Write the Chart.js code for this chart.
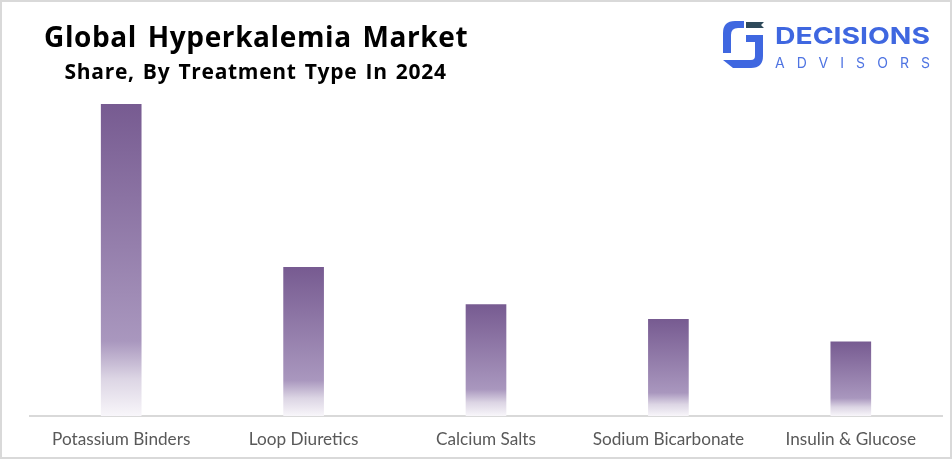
<!DOCTYPE html>
<html>
<head>
<meta charset="utf-8">
<script src="https://cdn.jsdelivr.net/npm/chart.js@4"></script>
<style>
html, body { margin: 0; padding: 0; background: #fff; overflow: hidden; }
#frame { position: relative; width: 952px; height: 459px; box-sizing: border-box; border: 2px solid #d9d9d9; }
#bar-chart { position: absolute; left: -2px; top: -2px; }
.head { position: absolute; color: #000; font-family: "Open Sans", sans-serif; white-space: nowrap; }
#title { left: 42px; top: 14px; font-size: 28px; font-weight: 700; line-height: 40px; letter-spacing: 0.6px; word-spacing: 3px; }
#subtitle { left: 62.5px; top: 54px; font-size: 21px; font-weight: 700; line-height: 30px; letter-spacing: 0.7px; word-spacing: 2px; }
#logo { position: absolute; left: -2px; top: -2px; }
</style>
</head>
<body>
<div id="frame">
    <canvas id="bar-chart" width="952" height="459"></canvas>
    <div class="head" id="title">Global Hyperkalemia Market</div>
    <div class="head" id="subtitle">Share, By Treatment Type In 2024</div>
    <svg id="logo" width="952" height="90" xmlns="http://www.w3.org/2000/svg">
        <path fill="#3f67e0" d="M744 21 H735 Q723 21 723 33 V53 H731 V35 Q731 28 738 28 H744 Z"/>
        <path fill="#3f67e0" d="M746 35 H763 V56 Q763 68 751 68 H733 L723 60 H751 Q755 60 755 56 V42 H746 Z"/>
        <path fill="#2f4a5a" d="M746 22 H764 L761 25 L764 28 H746 Z"/>
        <text x="775" y="44" fill="#3f67e0" font-family="Inter" font-weight="700" font-size="23.5" textLength="155" lengthAdjust="spacingAndGlyphs">DECISIONS</text>
        <text x="775" y="68" fill="#4f74e2" font-family="Inter" font-weight="400" font-size="14" textLength="155" lengthAdjust="spacing">ADVISORS</text>
    </svg>
</div>
<script>
"use strict";

var treatmentTypes = [
    "Potassium Binders",
    "Loop Diuretics",
    "Calcium Salts",
    "Sodium Bicarbonate",
    "Insulin & Glucose",
];

var marketShare = [42, 20, 15, 13, 10];

// every bar fades out on its own height, so the gradient is made per bar
function barGradient(context) {
    var chart = context.chart;
    if (!chart.chartArea) {
        return "#775b91";
    }
    var top = chart.scales.y.getPixelForValue(marketShare[context.dataIndex]);
    var bottom = chart.scales.y.getPixelForValue(0);
    var gradient = chart.ctx.createLinearGradient(0, top, 0, bottom);
    gradient.addColorStop(0, "#775b91");
    gradient.addColorStop(0.76, "#a997be");
    gradient.addColorStop(0.88, "#dcd5e4");
    gradient.addColorStop(1, "#f8f6fa");
    return gradient;
}

var ctx = document.getElementById("bar-chart").getContext("2d");

new Chart(ctx, {
    type: "bar",
    data: {
        labels: treatmentTypes,
        datasets: [
            {
                label: "Market Share",
                data: marketShare,
                backgroundColor: barGradient,
                borderWidth: 0,
                barThickness: 40,
            },
        ],
    },
    options: {
        responsive: false,
        animation: false,
        layout: {
            padding: { left: 30, right: 10, top: 104, bottom: 0 },
        },
        scales: {
            y: {
                display: false,
                min: 0,
                max: 42,
            },
            x: {
                afterFit: function (scale) {
                    scale.height = 43;
                },
                grid: {
                    display: false,
                    drawTicks: false,
                },
                border: {
                    display: true,
                    color: "#d9d9d9",
                    width: 2,
                },
                ticks: {
                    color: "#595959",
                    padding: 13,
                    maxRotation: 0,
                    font: { family: "Lato", size: 17.2 },
                },
            },
        },
        plugins: {
            legend: { display: false },
            tooltip: { enabled: false },
        },
    },
});
</script>
</body>
</html>
